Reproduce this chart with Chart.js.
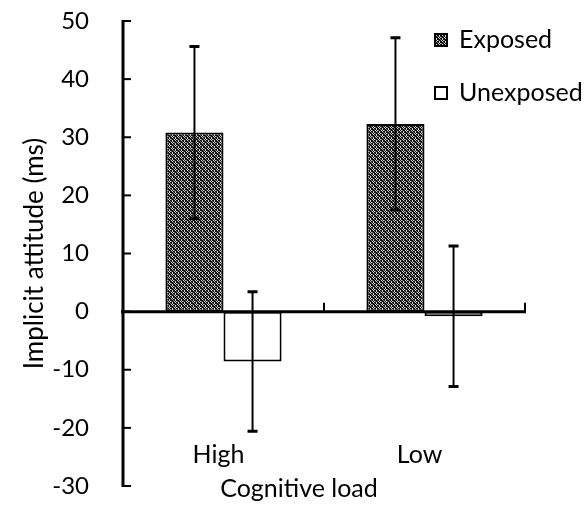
<!DOCTYPE html>
<html>
<head>
<meta charset="utf-8">
<script src="https://cdn.jsdelivr.net/npm/chart.js@4"></script>
<style>
html,body{margin:0;padding:0;background:#fff;}
#wrap{width:586px;height:516px;}
</style>
</head>
<body>
<div id="wrap"><canvas id="c" width="586" height="516"></canvas></div>
<script>
// ---- data ----
const categories = ['High', 'Low'];
const seriesNames = ['Exposed', 'Unexposed'];
const exposed = [30.8, 32.3];
const unexposed = [-8.6, -0.8];
const exposedErr = [14.8, 14.8];
const unexposedErr = [12.0, 12.1];
const yMin = -30, yMax = 50, yStep = 10;
const xTitle = 'Cognitive load';
const yTitle = 'Implicit attitude (ms)';

const FONT = 'Lato';
const TARGET = { left: 123, top: 21, right: 525, bottom: 486 };

function makePattern() {
  const p = document.createElement('canvas');
  p.width = 6; p.height = 6;
  const g = p.getContext('2d');
  g.fillStyle = '#111';
  g.fillRect(0, 0, 6, 6);
  g.fillStyle = '#cfcfcf';
  const pts = [[1,0],[0,1],[2,1],[1,2],[4,3],[3,4],[5,4],[4,5],[4,2],[1,5]];
  pts.forEach(([x,y]) => g.fillRect(x, y, 1, 1));
  g.fillStyle = '#6a6a6a';
  [[3,1],[0,4],[5,0],[2,3]].forEach(([x,y]) => g.fillRect(x, y, 1, 1));
  return document.getElementById('c').getContext('2d').createPattern(p, 'repeat');
}
const pattern = makePattern();

const errorBars = {
  id: 'errorBars',
  afterDatasetsDraw(chart) {
    const ctx = chart.ctx;
    const y = chart.scales.y, x = chart.scales.x;
    const area = chart.chartArea;
    ctx.save();
    // axes
    ctx.strokeStyle = '#000';
    ctx.lineWidth = 3;
    ctx.beginPath();
    ctx.moveTo(area.left, y.getPixelForValue(yMax) - 1);
    ctx.lineTo(area.left, y.getPixelForValue(yMin) + 1);
    ctx.stroke();
    ctx.lineWidth = 2;
    for (let v = yMin; v <= yMax; v += yStep) {
      const py = y.getPixelForValue(v);
      ctx.beginPath();
      ctx.moveTo(area.left, py);
      ctx.lineTo(area.left + 8, py);
      ctx.stroke();
    }
    const y0 = y.getPixelForValue(0);
    ctx.lineWidth = 3;
    ctx.beginPath();
    ctx.moveTo(area.left - 2, y0);
    ctx.lineTo(area.right + 1, y0);
    ctx.stroke();
    ctx.lineWidth = 2;
    const half = (x.getPixelForValue(1) - x.getPixelForValue(0)) / 2;
    for (let i = 0; i <= categories.length; i++) {
      const px = x.getPixelForValue(0) - half + i * 2 * half;
      ctx.beginPath();
      ctx.moveTo(px, y0);
      ctx.lineTo(px, y0 - 9);
      ctx.stroke();
    }
    // error bars
    const errs = [exposedErr, unexposedErr];
    const vals = [exposed, unexposed];
    chart.data.datasets.forEach((ds, di) => {
      const meta = chart.getDatasetMeta(di);
      meta.data.forEach((bar, i) => {
        const top = y.getPixelForValue(vals[di][i] + errs[di][i]);
        const bot = y.getPixelForValue(vals[di][i] - errs[di][i]);
        ctx.lineWidth = 2;
        ctx.beginPath();
        ctx.moveTo(bar.x, top);
        ctx.lineTo(bar.x, bot);
        ctx.stroke();
        ctx.lineWidth = 3;
        ctx.beginPath();
        ctx.moveTo(bar.x - 5, top); ctx.lineTo(bar.x + 5, top);
        ctx.moveTo(bar.x - 5, bot); ctx.lineTo(bar.x + 5, bot);
        ctx.stroke();
      });
    });
    ctx.fillStyle = '#000';
    ctx.textBaseline = 'alphabetic';
    // category labels
    ctx.font = '25px ' + FONT;
    ctx.textAlign = 'center';
    categories.forEach((c, i) => {
      ctx.fillText(c, x.getPixelForValue(i) - 5, 463);
    });
    // x title
    ctx.font = '25px ' + FONT;
    ctx.fillText(xTitle, (area.left + area.right) / 2 - 25, 497);
    // legend
    const fills = [pattern, '#fff'];
    const rows = [40, 93];
    seriesNames.forEach((name, i) => {
      const cy = rows[i];
      ctx.fillStyle = fills[i];
      ctx.fillRect(435, cy - 6, 12, 12);
      ctx.strokeStyle = '#000';
      ctx.lineWidth = 2;
      ctx.strokeRect(435, cy - 6, 12, 12);
      ctx.fillStyle = '#000';
      ctx.textAlign = 'left';
      ctx.fillText(name, 459, cy + 8);
    });
    ctx.restore();
  }
};

const chart = new Chart(document.getElementById('c'), {
  type: 'bar',
  data: {
    labels: categories,
    datasets: [
      { label: seriesNames[0], data: exposed, backgroundColor: pattern, borderColor: '#000', borderWidth: 2, borderSkipped: false },
      { label: seriesNames[1], data: unexposed, backgroundColor: '#fff', borderColor: '#000', borderWidth: 2, borderSkipped: false }
    ]
  },
  options: {
    responsive: false,
    animation: false,
    devicePixelRatio: 1,
    layout: { padding: { top: TARGET.top, right: 586 - TARGET.right, bottom: 0, left: 0 } },
    datasets: { bar: { categoryPercentage: 0.578, barPercentage: 1 } },
    plugins: { legend: { display: false }, tooltip: { enabled: false } },
    scales: {
      x: {
        grid: { display: false, drawTicks: false },
        border: { display: false },
        ticks: { display: false },
        afterFit(s) { s.height = 516 - TARGET.bottom; s.paddingLeft = 0; s.paddingRight = 0; }
      },
      y: {
        min: yMin, max: yMax,
        grid: { display: false, drawTicks: false },
        border: { display: false },
        ticks: { stepSize: yStep, color: '#000', font: { family: FONT, size: 24 }, padding: 34 },
        title: { display: true, text: yTitle, color: '#000', font: { family: FONT, size: 26 }, padding: { top: 19, bottom: 0 } },
        afterFit(s) { s.width = TARGET.left; s.paddingTop = 0; s.paddingBottom = 0; }
      }
    }
  },
  plugins: [errorBars]
});
</script>
</body>
</html>
